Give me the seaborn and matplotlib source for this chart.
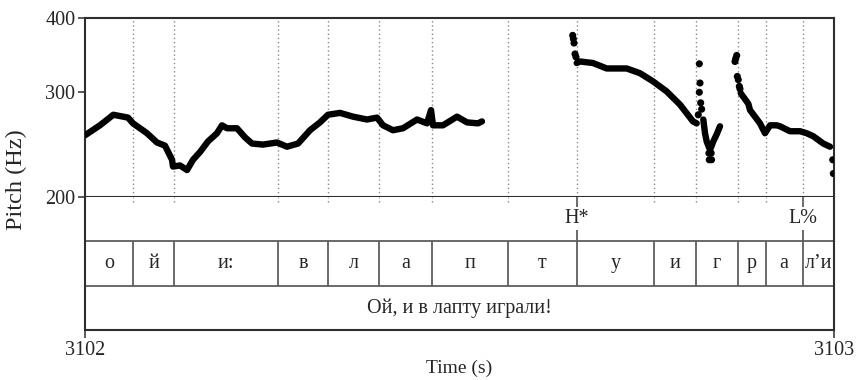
import matplotlib
matplotlib.use("Agg")
import matplotlib.pyplot as plt
import pandas as pd
import seaborn as sns

sns.set_theme(style="white")
plt.rcParams['font.family'] = ['Liberation Serif', 'DejaVu Serif']

T0 = 3102.0  # start of the excerpt, s

# Pitch track: continuous stretches (time offset from T0 in s, F0 in Hz)
seg1_t = [0.000, 0.020, 0.0378, 0.0574, 0.0641, 0.0828, 0.0961, 0.1068, 0.1162, 0.1175,
          0.1268, 0.1362, 0.1442, 0.1535, 0.1642, 0.1762, 0.1829, 0.1896, 0.2029, 0.2136,
          0.2230, 0.2376, 0.2563, 0.2697, 0.2844, 0.3004, 0.3137, 0.3244, 0.3405, 0.3578,
          0.3765, 0.3899, 0.3979, 0.4112, 0.4246, 0.4433, 0.4566, 0.4620, 0.4646, 0.4780,
          0.4967, 0.5100, 0.5247, 0.5300]
seg1_hz = [254, 264, 275, 272, 266, 256, 247, 244, 231, 225,
           226, 222, 231, 238, 248, 256, 264, 261, 261, 252,
           246, 245, 247, 243, 246, 259, 267, 275, 277, 273,
           270, 272, 264, 259, 261, 270, 266, 280, 264, 264,
           273, 267, 266, 268]

seg2_t = [0.6565, 0.6609, 0.6782, 0.6965, 0.7232, 0.7410, 0.7583, 0.7766, 0.7944, 0.8117, 0.8167]
seg2_hz = [336, 338, 336, 329, 329, 323, 313, 301, 286, 268, 266]

seg3_t = [0.8255, 0.8278, 0.8300, 0.8322, 0.8345, 0.8367, 0.8388, 0.8434, 0.8478]
seg3_hz = [270, 256, 248, 244, 240, 244, 248, 255, 263]

seg4_t = [0.8754, 0.8856, 0.8879, 0.8945, 0.9012, 0.9079, 0.9146, 0.9235, 0.9279, 0.9413,
          0.9546, 0.9636, 0.9724, 0.9857, 0.9947]
seg4_hz = [299, 287, 280, 273, 266, 256, 264, 264, 263, 258,
           258, 256, 253, 246, 243]

# Isolated pitch samples
dots_t = [0.6511, 0.6520, 0.6529, 0.6542, 0.6555,
          0.8202, 0.8211, 0.8202, 0.8220, 0.8233, 0.8188,
          0.8330, 0.8360, 0.8335, 0.8365,
          0.8678, 0.8688, 0.8701, 0.8709, 0.8722, 0.8736, 0.8745,
          0.9983, 0.9991]
dots_hz = [374, 369, 363, 348, 344,
           335, 311, 300, 288, 281, 275,
           237, 237, 231, 231,
           338, 342, 346, 319, 315, 307, 304,
           231, 219]

# Annotation tiers
phone_labels = ["о", "й", "и:", "в", "л", "а", "п", "т", "у", "и", "г", "р", "а", "л’и"]
phone_bounds = [0.0, 0.0645, 0.1192, 0.2581, 0.3240, 0.3929, 0.4629, 0.5644, 0.6565,
                0.7601, 0.8158, 0.8722, 0.9088, 0.9580, 1.0]
tone_labels = ["H*", "L%"]
tone_times = [0.6565, 0.9580]
sentence = "Ой, и в лапту играли!"

y_ticks = [200, 300, 400]

# ---- build tables
frames = []
for i, (tt, hh) in enumerate([(seg1_t, seg1_hz), (seg2_t, seg2_hz),
                              (seg3_t, seg3_hz), (seg4_t, seg4_hz)]):
    frames.append(pd.DataFrame({"time": [T0 + v for v in tt], "hz": hh, "seg": i}))
track = pd.DataFrame(pd.concat(frames, ignore_index=True))
dots = pd.DataFrame({"time": [T0 + v for v in dots_t], "hz": dots_hz})

W, H = 856, 380
fig = plt.figure(figsize=(W / 100, H / 100), dpi=100)
left, right = 85, 834
ax = fig.add_axes([left / W, 1 - 197 / H, (right - left) / W, (197 - 18) / H])
tier = fig.add_axes([left / W, 1 - 330 / H, (right - left) / W, (330 - 197) / H])

frame_col = "#2e2e2e"
line_col = "#5e5e5e"
fs = 14.5

# ---- pitch panel
inner = [T0 + b for b in phone_bounds[1:-1]]
ax.vlines(inner, 200, 400, colors="#8a8a8a", linestyles=(0, (1, 2)), linewidth=1.0, zorder=1)

sns.lineplot(data=track, x="time", y="hz", units="seg", estimator=None, sort=False,
             color="black", linewidth=4.6, solid_capstyle="round", solid_joinstyle="round",
             ax=ax, legend=False, zorder=3)
sns.scatterplot(data=dots, x="time", y="hz", s=26, color="black", edgecolor="none",
                ax=ax, legend=False, zorder=3)

ax.set_yscale("log")
ax.set_ylim(200, 400)
ax.set_xlim(T0, T0 + 1)
ax.set_yticks(y_ticks, labels=[str(v) for v in y_ticks])
ax.minorticks_off()
ax.set_xticks([])
ax.tick_params(axis="y", direction="out", length=5, width=1.1, color=frame_col,
               labelsize=fs, pad=2, left=True)
ax.set_xlabel("")
ax.set_ylabel("Pitch (Hz)", fontsize=17.5)
ax.yaxis.set_label_coords((27 - left) / (right - left), (197 - 180) / (197 - 18))
for s in ax.spines.values():
    s.set_visible(True)
    s.set_color(frame_col)
    s.set_linewidth(1.5)

# ---- annotation tiers (0-1 sentence, 1-2 phones, 2-3 tones)
tier.set_xlim(T0, T0 + 1)
tier.set_ylim(0, 3)
tier.hlines([1, 2], T0, T0 + 1, colors=line_col, linewidth=1.3)
tier.vlines(inner, 1, 2, colors=line_col, linewidth=1.3)
tier.vlines(inner, 2.88, 3, colors="#8a8a8a", linestyles=(0, (1, 2)), linewidth=1.0)

for a, b, lab in zip(phone_bounds[:-1], phone_bounds[1:], phone_labels):
    tier.text(T0 + (a + b) / 2, 1.5, lab, ha="center", va="center", fontsize=fs)

for t, lab in zip(tone_times, tone_labels):
    tier.vlines(T0 + t, 2, 3, colors=line_col, linewidth=1.3, zorder=1)
    tier.text(T0 + t, 2.52, lab, ha="center", va="center", fontsize=fs, zorder=2,
              bbox=dict(facecolor="white", edgecolor="none", pad=1.5))

tier.text(T0 + 0.5, 0.5, sentence, ha="center", va="center", fontsize=fs)

tier.set_yticks([])
tier.set_xticks([T0, T0 + 1], labels=["3102", "3103"])
tier.tick_params(axis="x", direction="out", length=6, width=1.1, color=frame_col,
                 labelsize=fs, pad=2, bottom=True)
tier.set_xlabel("Time (s)", fontsize=14)
tier.xaxis.set_label_coords(0.5, -(368 - 330) / (330 - 197))
tier.xaxis.label.set_va("center")
tier.set_ylabel("")
for name, s in tier.spines.items():
    s.set_color(frame_col)
    s.set_linewidth(1.5)
    s.set_visible(name != "top")

fig.savefig("out.png", dpi=100)
